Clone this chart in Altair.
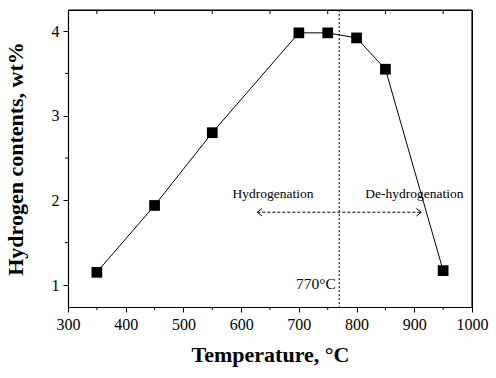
import altair as alt
import pandas as pd

# ---- data ----
temps = [350, 450, 550, 700, 750, 800, 850, 950]
h2 = [1.15, 1.94, 2.80, 3.98, 3.98, 3.92, 3.55, 1.17]

x_major = [300, 400, 500, 600, 700, 800, 900, 1000]
x_minor = [350, 450, 550, 650, 750, 850, 950]
y_major = [1, 2, 3, 4]
y_minor = [1.5, 2.5, 3.5]
x_far = [1000]
y_far = [4.25]

transition = [770]
arrow_x = [628, 912]
arrow_y = [1.86, 1.86]
arrow_dir = ["left", "right"]

ann_text = ["Hydrogenation", "De-hydrogenation"]
ann_x = [655, 900]
ann_y = [2.08, 2.08]

temp_label = ["770°C"]
temp_label_x = [764]
temp_label_y = [1.01]

W, H = 404, 297
FONT = "Liberation Serif"

xs = alt.Scale(domain=[300, 1000], nice=False, zero=False)
ys = alt.Scale(domain=[0.74, 4.25], nice=False, zero=False)

x_axis = alt.Axis(
    title="Temperature, °C", values=x_major, grid=False,
    ticks=True, tickSize=5, tickColor="#000000", tickWidth=1,
    domain=True, domainColor="#000000", domainWidth=1.2,
    labelFont=FONT, labelFontSize=16, labelColor="#000000", labelPadding=4,
    labelFlush=False, labelOverlap=False,
    titleFont=FONT, titleFontSize=22, titleFontWeight="bold", titleColor="#000000",
    titlePadding=12, format="d")
y_axis = alt.Axis(
    title="Hydrogen contents, wt%", values=y_major, grid=False,
    ticks=True, tickSize=5, tickColor="#000000", tickWidth=1,
    domain=True, domainColor="#000000", domainWidth=1.2,
    labelFont=FONT, labelFontSize=16, labelColor="#000000", labelPadding=4,
    labelFlush=False, labelOverlap=False,
    titleFont=FONT, titleFontSize=22, titleFontWeight="bold", titleColor="#000000",
    titlePadding=24, format="d")


def X(f):
    return alt.X(f, scale=xs, axis=x_axis)


def Y(f):
    return alt.Y(f, scale=ys, axis=y_axis)


df = pd.DataFrame({"T": temps, "H": h2})

line = alt.Chart(df).mark_line(color="#000000", strokeWidth=1).encode(x=X("T:Q"), y=Y("H:Q"))
pts = alt.Chart(df).mark_square(color="#000000", size=115, opacity=1).encode(x=X("T:Q"), y=Y("H:Q"))

# minor ticks and top ticks
xt_bottom = alt.Chart(pd.DataFrame({"xm": x_minor})).mark_rule(
    color="#000000", strokeWidth=1).encode(x=X("xm:Q"), y=alt.value(H), y2=alt.value(H + 3))
xt_top = alt.Chart(pd.DataFrame({"xt": x_minor})).mark_rule(
    color="#000000", strokeWidth=1).encode(x=X("xt:Q"), y=alt.value(0), y2=alt.value(4))
yt_left = alt.Chart(pd.DataFrame({"ym": y_minor})).mark_rule(
    color="#000000", strokeWidth=1).encode(y=Y("ym:Q"), x=alt.value(0), x2=alt.value(-3))

# top and right frame edges
frame_r = alt.Chart(pd.DataFrame({"fx": x_far})).mark_rule(
    color="#000000", strokeWidth=1.2).encode(x=X("fx:Q"))
frame_t = alt.Chart(pd.DataFrame({"fy": y_far})).mark_rule(
    color="#000000", strokeWidth=1.2).encode(y=Y("fy:Q"))

vline = alt.Chart(pd.DataFrame({"v": transition})).mark_rule(
    color="#000000", strokeWidth=1, strokeDash=[2, 2]).encode(x=X("v:Q"))

arrow_df = pd.DataFrame({"x": arrow_x, "y": arrow_y, "d": arrow_dir})
arrow_line = alt.Chart(arrow_df).mark_line(color="#000000", strokeWidth=1, strokeDash=[3, 2]).encode(
    x=X("x:Q"), y=Y("y:Q"))
head_r = alt.Chart(arrow_df).transform_filter("datum.d == 'right'").mark_point(
    shape="M-1,-0.8L0,0L-1,0.8", filled=False, color="#000000", size=90, strokeWidth=1, opacity=1).encode(
    x=X("x:Q"), y=Y("y:Q"))
head_l = alt.Chart(arrow_df).transform_filter("datum.d == 'left'").mark_point(
    shape="M1,-0.8L0,0L1,0.8", filled=False, color="#000000", size=90, strokeWidth=1, opacity=1).encode(
    x=X("x:Q"), y=Y("y:Q"))

ann = alt.Chart(pd.DataFrame({"t": ann_text, "x": ann_x, "y": ann_y})).mark_text(
    font=FONT, fontSize=13.5, color="#000000", align="center", baseline="middle").encode(
    x=X("x:Q"), y=Y("y:Q"), text="t:N")

tl = alt.Chart(pd.DataFrame({"t": temp_label, "x": temp_label_x, "y": temp_label_y})).mark_text(
    font=FONT, fontSize=15.5, color="#000000", align="right", baseline="middle").encode(
    x=X("x:Q"), y=Y("y:Q"), text="t:N")

chart = alt.layer(
    line, pts, frame_r, frame_t, vline, arrow_line, head_l, head_r, ann, tl,
    xt_bottom, xt_top, yt_left,
).properties(
    width=W, height=H,
    padding={"left": 68, "top": 10, "right": 24, "bottom": 71},
    autosize=alt.AutoSizeParams(type="none"),
).configure_view(stroke="#000000", strokeWidth=1)

chart.save("out.html", embed_options={"renderer": "svg", "actions": False})
